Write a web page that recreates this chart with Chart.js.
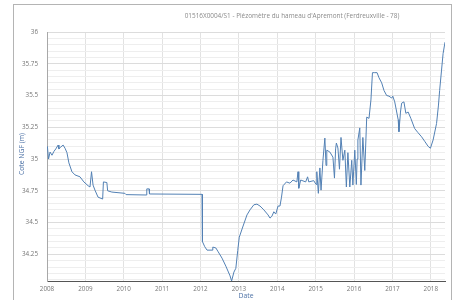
<!DOCTYPE html>
<html>
<head>
<meta charset="utf-8">
<script src="https://cdn.jsdelivr.net/npm/chart.js@4/dist/chart.umd.min.js"></script>
<style>
  body { margin: 0; background: #fff; }
  canvas { display: block; }
</style>
</head>
<body>
<canvas class="js-piezo" width="456" height="300"></canvas>
<script>
const chartTitle = "01516X0004/S1 - Piézomètre du hameau d'Apremont (Ferdreuxville - 78)";
const yTitle = "Cote NGF (m)";
const xTitle = "Date";

// decimal years
const years = [
  2008.01, 2008.04, 2008.08, 2008.13, 2008.18, 2008.23, 2008.29, 2008.31, 2008.36, 2008.42,
  2008.47, 2008.52, 2008.57, 2008.65, 2008.73, 2008.86, 2008.96, 2009.07, 2009.12, 2009.16,
  2009.20, 2009.25, 2009.33, 2009.45, 2009.47, 2009.56, 2009.58, 2009.69, 2010.03, 2010.06,
  2010.58, 2010.60, 2010.66, 2010.67, 2012.04, 2012.05, 2012.11, 2012.17, 2012.30, 2012.32,
  2012.40, 2012.45, 2012.56, 2012.66, 2012.77, 2012.81, 2012.87, 2012.92, 2012.97, 2013.01,
  2013.10, 2013.21, 2013.29, 2013.39, 2013.47, 2013.55, 2013.65, 2013.76, 2013.81, 2013.86,
  2013.91, 2013.96, 2014.02, 2014.07, 2014.11, 2014.15, 2014.24, 2014.33, 2014.41, 2014.51,
  2014.54, 2014.56, 2014.61, 2014.74, 2014.79, 2014.82, 2014.95, 2015.01, 2015.03, 2015.07,
  2015.11, 2015.14, 2015.19, 2015.24, 2015.27, 2015.29, 2015.37, 2015.45, 2015.49, 2015.52,
  2015.54, 2015.58, 2015.62, 2015.66, 2015.71, 2015.76, 2015.80, 2015.84, 2015.89, 2015.94,
  2015.97, 2016.02, 2016.06, 2016.08, 2016.10, 2016.15, 2016.18, 2016.23, 2016.28, 2016.33,
  2016.39, 2016.44, 2016.48, 2016.54, 2016.60, 2016.65, 2016.72, 2016.78, 2016.85, 2016.91,
  2016.98, 2017.01, 2017.06, 2017.15, 2017.17, 2017.21, 2017.24, 2017.30, 2017.35, 2017.41,
  2017.48, 2017.58, 2017.66, 2017.76, 2017.84, 2017.93, 2017.99, 2018.06, 2018.15, 2018.20,
  2018.23, 2018.28, 2018.32, 2018.37
];

// water level in m NGF
const levels = [
  35.10, 35.00, 35.055, 35.03, 35.06, 35.08, 35.11, 35.08, 35.095, 35.11,
  35.085, 35.05, 34.97, 34.90, 34.875, 34.86, 34.82, 34.79, 34.78, 34.90,
  34.795, 34.755, 34.70, 34.685, 34.82, 34.815, 34.75, 34.74, 34.73, 34.72,
  34.717, 34.765, 34.765, 34.725, 34.722, 34.35, 34.31, 34.283, 34.283, 34.307,
  34.30, 34.275, 34.22, 34.157, 34.08, 34.04, 34.11, 34.14, 34.28, 34.385,
  34.465, 34.56, 34.60, 34.64, 34.645, 34.63, 34.60, 34.56, 34.535, 34.55,
  34.585, 34.567, 34.63, 34.63, 34.70, 34.79, 34.82, 34.81, 34.835, 34.82,
  34.90, 34.77, 34.835, 34.82, 34.86, 34.82, 34.83, 34.80, 34.90, 34.73,
  34.93, 34.755, 34.99, 35.165, 34.95, 35.07, 35.055, 35.015, 34.85, 35.08,
  35.126, 35.087, 34.92, 35.17, 34.99, 35.07, 34.78, 35.05, 34.78, 34.99,
  34.795, 35.07, 34.80, 35.00, 35.15, 35.245, 34.795, 35.17, 34.91, 35.33,
  35.32, 35.465, 35.68, 35.68, 35.68, 35.64, 35.60, 35.54, 35.50, 35.495,
  35.48, 35.495, 35.45, 35.31, 35.215, 35.37, 35.44, 35.45, 35.36, 35.37,
  35.32, 35.24, 35.21, 35.175, 35.14, 35.10, 35.085, 35.15, 35.28, 35.425,
  35.54, 35.70, 35.83, 35.92
];

const xTickYears = [2008, 2009, 2010, 2011, 2012, 2013, 2014, 2015, 2016, 2017, 2018];
const yMajorTicks = [34.25, 34.5, 34.75, 35, 35.25, 35.5, 35.75, 36];

const isMajor = function(v) {
  return yMajorTicks.some(t => Math.abs(t - v) < 0.001);
};

const fontFamily = "'Open Sans', 'Liberation Sans', sans-serif";
const tickFont = { family: fontFamily, size: 6.3 };

// frame + title + axis titles
const decoPlugin = {
  id: "deco",
  beforeDraw(chart) {
    const ctx = chart.ctx;
    ctx.save();
    ctx.strokeStyle = "#b4b4b4";
    ctx.lineWidth = 1;
    ctx.strokeRect(13.5, 4.5, 438, 310);
    ctx.restore();
  },
  afterDraw(chart) {
    const ctx = chart.ctx;
    const area = chart.chartArea;
    ctx.save();
    ctx.font = "6.4px " + fontFamily;
    ctx.fillStyle = "#8a8a8a";
    ctx.textAlign = "center";
    ctx.textBaseline = "middle";
    ctx.fillText(chartTitle, 292, 16);

    ctx.font = "6.8px " + fontFamily;
    ctx.fillStyle = "#4d72a6";
    ctx.fillText(xTitle, (area.left + area.right) / 2, 296);
    ctx.translate(22, 154);
    ctx.rotate(-Math.PI / 2);
    ctx.fillText(yTitle, 0, 0);
    ctx.restore();
  }
};

const ctx = document.querySelector(".js-piezo").getContext("2d");
const piezoChart = new Chart(ctx, {
  type: "line",
  data: {
    datasets: [{
      label: "Cote NGF",
      data: years.map((y, i) => ({ x: y, y: levels[i] })),
      borderColor: "rgb(82, 128, 180)",
      borderWidth: 1,
      pointRadius: 0,
      tension: 0,
      fill: false
    }]
  },
  options: {
    responsive: false,
    animation: false,
    layout: { padding: { top: 32, right: 11, left: 0, bottom: 0 } },
    plugins: {
      legend: { display: false },
      tooltip: { enabled: false }
    },
    scales: {
      x: {
        type: "linear",
        min: 2008,
        max: 2018.37,
        afterBuildTicks: function(scale) {
          scale.ticks = xTickYears.map(v => ({ value: v }));
        },
        afterFit: function(scale) { scale.height = 19; },
        ticks: {
          color: "#777",
          font: tickFont,
          padding: 4,
          maxRotation: 0,
          callback: v => String(v)
        },
        grid: { color: "#e2e2e2", drawTicks: false },
        border: { color: "#555", width: 1 }
      },
      y: {
        type: "linear",
        min: 34.04,
        max: 36,
        afterBuildTicks: function(scale) {
          let t = [];
          for (let i = 1; i <= 40; i++) {
            t.push({ value: Math.round((34 + i * 0.05) * 100) / 100 });
          }
          scale.ticks = t;
        },
        afterFit: function(scale) { scale.width = 47; },
        ticks: {
          color: "#777",
          font: tickFont,
          padding: 9,
          autoSkip: false,
          callback: v => isMajor(v) ? String(Number(v.toFixed(2))) : ""
        },
        grid: {
          drawTicks: false,
          color: c => isMajor(c.tick.value) ? "#dcdcdc" : "#eeeeee"
        },
        border: { color: "#a8a8a8", width: 1 }
      }
    }
  },
  plugins: [decoPlugin]
});
</script>
</body>
</html>
